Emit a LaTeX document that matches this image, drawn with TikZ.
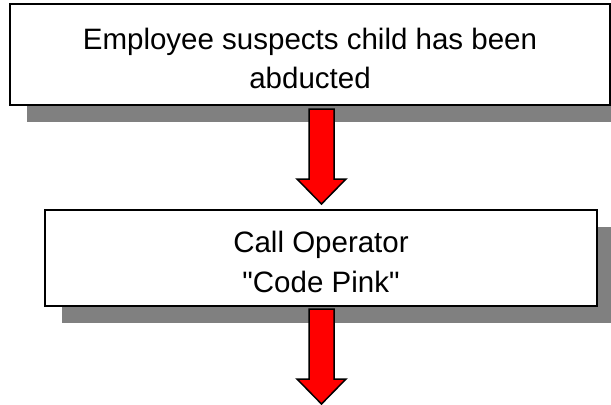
\documentclass[tikz,border=0pt]{standalone}
\usepackage{fontspec}
\setmainfont{Liberation Sans}
\usetikzlibrary{calc,shadows}
\definecolor{shadowgray}{HTML}{808080}
\tikzset{
  stepbox/.style={draw=black, line width=2bp, fill=white, inner sep=0pt,
    align=center, font=\fontsize{29.5bp}{39.5bp}\selectfont,
    general shadow={fill=shadowgray, shadow xshift=17bp, shadow yshift=-17bp}},
  blockarrow/.style={draw=black, line width=1.5bp, fill=red, line join=miter}
}
% extra space above the first line pushes the text block down a little
\newcommand{\toppad}{\rule{0pt}{29bp}}
% block arrow from #1 down to #2: shaft half width 12.5, head half width 24.5, head length 25
\newcommand{\downblockarrow}[2]{%
  \draw[blockarrow] ($(#1)+(-12.5,0)$) -- ($(#1)+(12.5,0)$) -- ($(#2)+(12.5,-25)$)
    -- ($(#2)+(24.5,-25)$) -- (#2) -- ($(#2)+(-24.5,-25)$) -- ($(#2)+(-12.5,-25)$) -- cycle;}
\begin{document}
\begin{tikzpicture}[x=1bp, y=-1bp]
  \useasboundingbox (0,0) rectangle (611,404);
  \node[stepbox, minimum width=600bp, minimum height=101bp] (suspect) at (310,54.5)
    {\toppad Employee suspects child has been\\abducted};
  \node[stepbox, minimum width=552bp, minimum height=96bp] (operator) at (321,258)
    {\toppad Call Operator\\\textquotedbl Code Pink\textquotedbl};
  \coordinate (a1s) at ($(suspect.south -| operator.north)+(0.5,3)$);
  \coordinate (a1e) at ($(operator.north)+(0.5,-5)$);
  \coordinate (a2s) at ($(operator.south)+(0.5,2)$);
  \coordinate (a2e) at ($(operator.south)+(0.5,97)$);
  \downblockarrow{a1s}{a1e}
  \downblockarrow{a2s}{a2e}
\end{tikzpicture}
\end{document}
